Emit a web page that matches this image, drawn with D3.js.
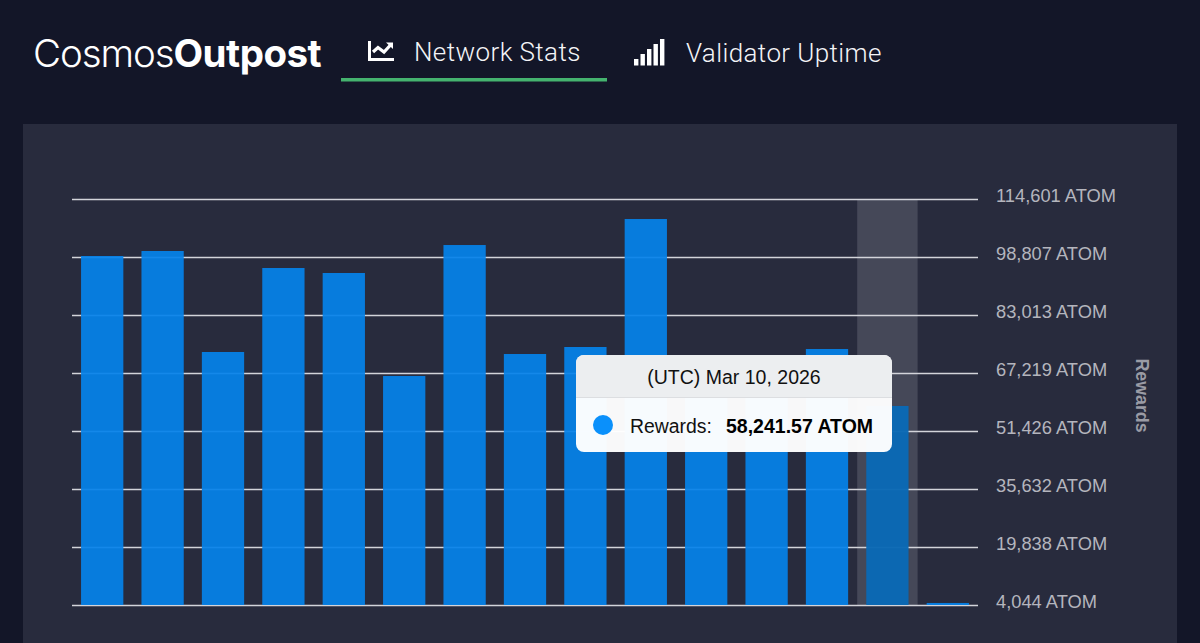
<!DOCTYPE html>
<html lang="en">
<head>
    <meta charset="UTF-8">
    <title>Cosmos Outpost</title>
    <script src="https://cdnjs.cloudflare.com/ajax/libs/d3/7.8.5/d3.min.js"></script>
    <style>
        body { margin: 0; overflow: hidden; background: #131628; font-family: "Liberation Sans", Arial, sans-serif; }
        svg { display: block; }
    </style>
</head>
<body>
    <svg id="chart" width="1200" height="643"></svg>
    <script>
        // chart data
        const dates = ["Feb 25", "Feb 26", "Feb 27", "Feb 28", "Mar 1", "Mar 2", "Mar 3", "Mar 4",
                       "Mar 5", "Mar 6", "Mar 7", "Mar 8", "Mar 9", "Mar 10", "Mar 11"];
        const rewards = [99080, 100440, 72940, 95810, 94450, 66400, 102070, 72390,
                         74300, 109150, 62000, 64500, 73750, 58241.57, 4600];
        const tickValues = [4044, 19838, 35632, 51426, 67219, 83013, 98807, 114601];
        const activeDate = "Mar 10";
        const tabs = ["Network Stats", "Validator Uptime"];
        const signalBars = [0, 1, 2, 3, 4];

        const svg = d3.select("#chart");

        // header
        const logo = svg.append("text").attr("x", 33).attr("y", 67)
            .attr("fill", "#fff").attr("font-size", 38.5).attr("font-family", "Inter, 'Liberation Sans', sans-serif");
        logo.append("tspan").attr("font-weight", 300).attr("letter-spacing", -1.1).text("Cosmos");
        logo.append("tspan").attr("font-weight", 700).attr("letter-spacing", -0.5).text("Outpost");

        svg.append("text").attr("x", 414).attr("y", 61).attr("fill", "#f4f4f7").attr("font-size", 26)
            .attr("font-family", "Roboto, sans-serif").attr("letter-spacing", 0.4).attr("font-weight", 300).text(tabs[0]);
        svg.append("text").attr("x", 686).attr("y", 62).attr("fill", "#f4f4f7").attr("font-size", 26)
            .attr("font-family", "Roboto, sans-serif").attr("letter-spacing", 0.4).attr("font-weight", 300).text(tabs[1]);
        svg.append("rect").attr("x", 341).attr("y", 78).attr("width", 266).attr("height", 3.5).attr("fill", "#45b36f");

        // line chart icon
        svg.append("path").attr("d", "M369.5 41V59.5H394").attr("fill", "none").attr("stroke", "#fff").attr("stroke-width", 3);
        svg.append("path").attr("d", "M373 52L378 47.5L384 52L391 44.5").attr("fill", "none").attr("stroke", "#fff").attr("stroke-width", 3.2);
        svg.append("path").attr("d", "M386 42.5H393V49Z").attr("fill", "#fff");

        // signal icon
        svg.selectAll(".signal").data(signalBars).enter().append("rect")
            .attr("x", d => 634 + d * 6.5)
            .attr("y", d => 59 - d * 5)
            .attr("width", 4.4)
            .attr("height", d => 6.5 + d * 5)
            .attr("fill", "#fff");

        // panel
        svg.append("rect").attr("x", 23).attr("y", 124).attr("width", 1154).attr("height", 519).attr("fill", "#282b3d");

        const x = d3.scaleBand().domain(dates).range([72, 978]).paddingInner(0.3).paddingOuter(0.15);
        const y = d3.scaleLinear().domain([4044, 114601]).range([605, 199]);

        // hover band
        svg.append("rect")
            .attr("x", x(activeDate) - x.step() * 0.15)
            .attr("y", y(114601))
            .attr("width", x.step())
            .attr("height", y(4044) - y(114601))
            .attr("fill", "#8a8c99")
            .attr("fill-opacity", 0.3);

        // axis with gridlines
        const axis = d3.axisRight(y).tickValues(tickValues)
            .tickSize(906).tickPadding(18)
            .tickFormat(d => d3.format(",")(d) + " ATOM");
        const axisG = svg.append("g").attr("transform", "translate(72,0)").call(axis);
        axisG.select(".domain").remove();
        axisG.selectAll("line").attr("stroke", "#d3d4da").attr("stroke-width", 1.6);
        axisG.selectAll("text").attr("fill", "#b4b5bd").attr("font-size", 18.3)
            .attr("font-family", "'Liberation Sans', sans-serif").attr("dy", "0.13em");

        // bars
        svg.selectAll(".bar").data(dates).enter().append("rect")
            .attr("class", "bar")
            .attr("x", d => x(d))
            .attr("y", (d, i) => y(rewards[i]))
            .attr("width", x.bandwidth())
            .attr("height", (d, i) => y(4044) - y(rewards[i]))
            .attr("fill", d => d === activeDate ? "#0a69b5" : "#0582ea")
            .attr("fill-opacity", d => d === activeDate ? 0.97 : 0.93);

        // y axis title
        svg.append("text").attr("transform", "translate(1136,395.5) rotate(90)")
            .attr("text-anchor", "middle").attr("fill", "#9a9ba5").attr("font-size", 17.8)
            .attr("font-weight", 700).text("Rewards");

        // tooltip
        const tip = svg.append("g").attr("transform", "translate(576,355)");
        tip.append("rect").attr("width", 316).attr("height", 97).attr("rx", 8).attr("fill", "#ffffff").attr("fill-opacity", 0.97);
        tip.append("path").attr("d", "M0 42V8a8 8 0 0 1 8-8H308a8 8 0 0 1 8 8V42Z").attr("fill", "#eceef0");
        tip.append("line").attr("x1", 0).attr("x2", 316).attr("y1", 42.5).attr("y2", 42.5).attr("stroke", "#dcdee1");
        tip.append("text").attr("x", 158).attr("y", 29).attr("text-anchor", "middle").attr("fill", "#111")
            .attr("font-size", 19.5).text("(UTC) " + activeDate + ", 2026");
        tip.append("circle").attr("cx", 27).attr("cy", 70).attr("r", 10).attr("fill", "#0a90fb");
        tip.append("text").attr("x", 54).attr("y", 78).attr("fill", "#111").attr("font-size", 19.4).text("Rewards:");
        tip.append("text").attr("x", 150).attr("y", 78).attr("fill", "#000").attr("font-size", 19.5).attr("font-weight", 700)
            .text(d3.format(",.2f")(rewards[dates.indexOf(activeDate)]) + " ATOM");
    </script>
</body>
</html>
